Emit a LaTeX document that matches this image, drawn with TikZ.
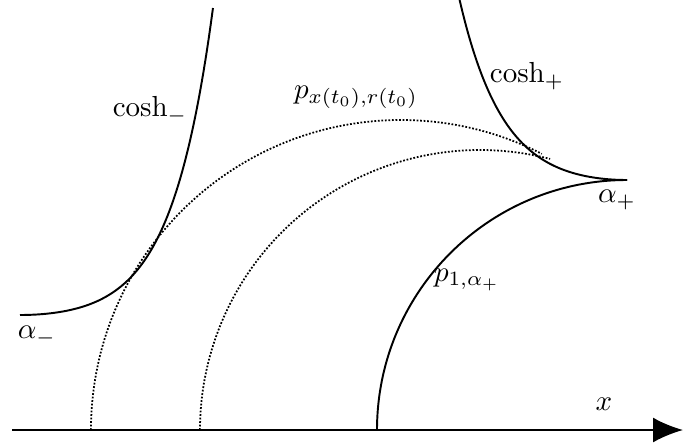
\documentclass[tikz,border=0pt]{standalone}
\usepackage{graphicx}
\usetikzlibrary{arrows.meta}
\tikzset {
  >={Latex[length=6mm,width=5mm]},
  every node/.style={font=\normalsize},
}
\newcommand{\lbl}[1]{\scalebox{1.65}{$#1$}}
\begin{document}
\begin{tikzpicture}[line width=1.1pt]
  \useasboundingbox (0,-0.28) rectangle (13.66,8.6);
  \coordinate (o) at (0.24,0);
  \coordinate (e) at (13.66,0);
  \coordinate (c1) at (12.54,0);
  \coordinate (c2) at (9.6,0);
  \coordinate (c3) at (8.02,0);

  \draw[->] (o) -- (e);

  \draw (c1) ++(180:5) arc[start angle=180,end angle=90,radius=5];
  \begin{scope}[densely dotted,line width=1pt]
    \draw (c3) ++(180:6.2) arc[start angle=180,end angle=63,radius=6.2];
    \draw (c2) ++(180:5.6) arc[start angle=180,end angle=75.5,radius=5.6];
  \end{scope}

  \draw[smooth,samples=60,domain=0:3.35] plot({12.54-\x},{5+0.16*(cosh(1.15*\x)-1)});
  \draw[smooth,samples=60,domain=0:3.86] plot({0.4+\x},{2.3+0.122*(cosh(1.2*\x)-1)});

  \node (cm) at (3.0,6.4) {\lbl{\cosh_-}};
  \node (cp) at (10.54,7.08) {\lbl{\cosh_+}};
  \node (pxr) at (7.12,6.66) {\lbl{p_{x(t_0),r(t_0)}}};
  \node (lap) at (12.34,4.6) {\lbl{\alpha_+}};
  \node (lam) at (0.74,1.88) {\lbl{\alpha_-}};
  \node (p1) at (9.34,3.0) {\lbl{p_{1,\alpha_+}}};
  \node (lx) at (12.08,0.52) {\lbl{x}};
\end{tikzpicture}
\end{document}
